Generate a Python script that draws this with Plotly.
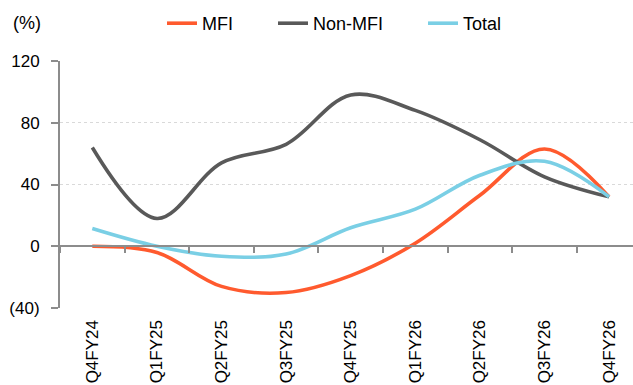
import plotly.graph_objects as go

quarters = ["Q4FY24", "Q1FY25", "Q2FY25", "Q3FY25", "Q4FY25", "Q1FY26", "Q2FY26", "Q3FY26", "Q4FY26"]
mfi = [0, -4, -26, -30, -19, 2, 33, 63, 32]
non_mfi = [64, 18, 54, 66, 98, 88, 69, 45, 32]
total = [11.5, 0, -6.5, -5, 12, 24, 46, 55, 32]

y_tickvals = [-40, 0, 40, 80, 120]
y_ticktext = ["(40)", "0", "40", "80", "120"]

FONT = "Liberation Sans, Arial, sans-serif"
NB = "\u00a0"

legend_names = {"MFI": "MFI" + NB * 7, "Non-MFI": "Non-MFI" + NB * 7, "Total": "Total"}

fig = go.Figure()
for name, vals, color in [("MFI", mfi, "#FF5A2E"), ("Non-MFI", non_mfi, "#595959"), ("Total", total, "#7ACFE5")]:
    fig.add_trace(go.Scatter(x=quarters, y=vals, name=legend_names[name], mode="lines",
                             line=dict(color=color, width=3.6, shape="spline", smoothing=1.0)))

fig.update_layout(
    width=633, height=385,
    margin=dict(l=60, r=0, t=61, b=77, autoexpand=False),
    paper_bgcolor="white", plot_bgcolor="white",
    font=dict(family=FONT, size=18, color="#000000"),
    showlegend=True,
    legend=dict(orientation="h", x=162 / 633, y=1 - 5 / 385, xref="container", yref="container",
                xanchor="left", yanchor="top", font=dict(size=18), bgcolor="rgba(0,0,0,0)"),
    xaxis=dict(
        type="category", range=[-0.5, 8.37],
        anchor="free", position=0.25,
        showline=True, linecolor="#8C8C8C", linewidth=2,
        ticks="outside", tickson="boundaries", ticklen=6, tickcolor="#8C8C8C", tickwidth=2,
        tickangle=-90, ticklabelstandoff=66, showgrid=False,
        tickfont=dict(size=17),
    ),
    yaxis=dict(
        range=[-40, 120], tickvals=y_tickvals, ticktext=y_ticktext,
        showline=True, linecolor="#8C8C8C", linewidth=2,
        ticks="outside", ticklen=7, tickcolor="#8C8C8C", tickwidth=2,
        ticklabelstandoff=8,
        showgrid=True, gridcolor="#D9D9D9", griddash="dot", gridwidth=1,
        zeroline=False, tickfont=dict(size=17),
    ),
    annotations=[dict(text="(%)", x=-0.0576, y=1.154, xref="paper", yref="paper",
                      xanchor="center", yanchor="middle", showarrow=False, font=dict(size=18))],
)

fig.write_html("out.html", config={"displayModeBar": False},
               post_script="document.body.style.margin='0';document.body.style.overflow='hidden';")
